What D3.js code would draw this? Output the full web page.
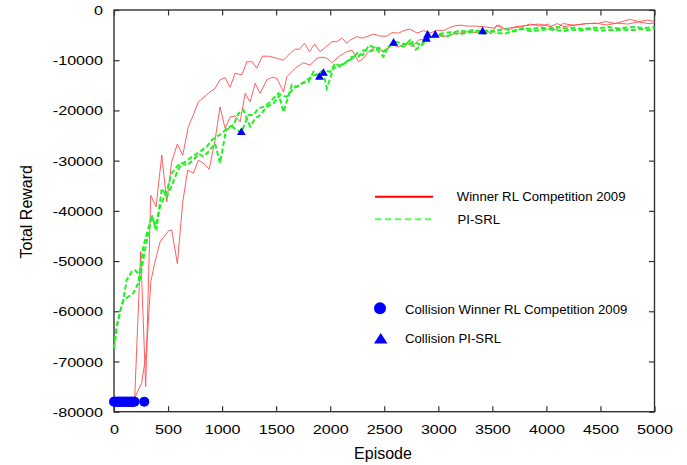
<!DOCTYPE html>
<html><head><meta charset="utf-8">
<script src="https://cdn.jsdelivr.net/npm/d3@7"></script>
<style>
html,body{margin:0;padding:0;background:#fff;}
svg{display:block;font-family:"Liberation Sans",Arial,sans-serif;}
</style></head>
<body><svg id="chart" width="687" height="465"></svg>
<script>
// ---------- data ----------
const xTicks = [0,500,1000,1500,2000,2500,3000,3500,4000,4500,5000];
const yTicks = [0,-10000,-20000,-30000,-40000,-50000,-60000,-70000,-80000];

const winnerAEpisodes = [0,190,247,293,340,389,442,488,534,586,636,688,734,780,873,935,981,1028,1074,1120,1182,1229,1275,1321,1373,1429,1506,1568,1630,1676,1716,1762,1808,1855,1907,1963,2016,2061,2108,2154,2185,2247,2293,2340,2401,2463,2525,2571,2632,2694,2741,2803,2865,2926,2988,3050,3097,3143,3205,3266,3343,3405,3513,3559,3606,3652,3714,3776,3853,3930,3977,4038,4100,4162,4270,4362,4470,4547,4640,4732,4779,4856,4933,5000];
const winnerAReward   = [-78000,-78000,-48100,-75000,-36900,-39200,-28900,-38200,-30200,-26700,-28900,-23200,-20900,-18300,-16600,-15600,-13900,-13500,-15400,-12600,-12900,-10300,-10300,-11600,-9200,-9200,-9600,-10000,-8600,-7800,-7800,-6600,-8300,-6800,-8300,-7300,-6300,-6300,-5600,-6600,-6000,-5300,-5600,-5300,-4800,-5200,-5200,-4500,-4600,-4000,-3800,-4600,-4100,-4600,-4000,-4100,-3600,-3200,-3000,-3200,-3200,-3300,-3600,-3000,-3600,-4000,-3300,-3200,-3000,-2800,-3000,-3300,-2700,-3300,-3000,-2700,-2700,-2300,-2700,-2100,-1900,-2300,-2000,-2300];

const winnerBEpisodes = [0,194,256,302,340,380,426,503,534,586,636,682,734,781,827,880,935,981,1028,1074,1120,1167,1213,1259,1306,1352,1414,1460,1506,1568,1599,1676,1753,1815,1877,1923,1969,2016,2077,2154,2201,2262,2308,2355,2417,2463,2509,2571,2632,2710,2756,2818,2900,2990,3050,3140,3200,3280,3380,3440,3490,3540,3600,3680,3760,3850,3950,4020,4083,4150,4250,4350,4450,4560,4650,4750,4850,4950,5000];
const winnerBReward   = [-78000,-77100,-74300,-67700,-54100,-50100,-46200,-44000,-43800,-50500,-38200,-31900,-32500,-29900,-30500,-31700,-25900,-19300,-23600,-21300,-21100,-22300,-16600,-18300,-14600,-16600,-13900,-13400,-13600,-16300,-13300,-11600,-10500,-11000,-9600,-9400,-9600,-10500,-9300,-8300,-8000,-10300,-9600,-8300,-7400,-8000,-8300,-7000,-7300,-6600,-7300,-6000,-5600,-5000,-5300,-4800,-4600,-4300,-4600,-4000,-4800,-3000,-3800,-3500,-3400,-2800,-3200,-2800,-4000,-2700,-3000,-2800,-2600,-3000,-2600,-2800,-2400,-2700,-2600];

const pisrlAEpisodes = [0,25,56,86,132,179,225,271,303,349,395,442,488,534,580,627,679,735,786,827,889,935,981,1037,1090,1136,1178,1243,1290,1336,1382,1429,1475,1521,1568,1645,1692,1738,1799,1845,1901,1938,1969,2030,2092,2154,2200,2262,2308,2355,2401,2448,2494,2540,2586,2620,2679,2740,2790,2850,2889,2940,2972,3030,3090,3150,3200,3260,3320,3410,3480,3550,3620,3700,3780,3850,3930,4010,4080,4160,4240,4320,4400,4480,4560,4640,4720,4800,4880,4950,5000];
const pisrlAReward   = [-67400,-63100,-60100,-57800,-57100,-56400,-54400,-47200,-44500,-41200,-43500,-35500,-37200,-35000,-32500,-30500,-30900,-29800,-28700,-29200,-27900,-26600,-30500,-23900,-23200,-23900,-24400,-20900,-20900,-19600,-19300,-18600,-17600,-16600,-20300,-14900,-15300,-14600,-14300,-12300,-13400,-12600,-15600,-11600,-11000,-10300,-9300,-9300,-8000,-8300,-8000,-7500,-8300,-7300,-6600,-7000,-7300,-6000,-7900,-7000,-5800,-5600,-5000,-4700,-4500,-4400,-4100,-4300,-4000,-4300,-4000,-4600,-4700,-4100,-3800,-4200,-4100,-3800,-4000,-4200,-3900,-4100,-3800,-4100,-4000,-4000,-3900,-4000,-3800,-4000,-3700];

const pisrlBEpisodes = [0,25,56,86,117,164,194,225,241,287,333,349,380,426,488,534,595,642,704,796,858,905,951,997,1043,1105,1151,1197,1259,1306,1352,1414,1475,1537,1599,1660,1722,1784,1830,1892,1938,2000,2046,2092,2154,2210,2250,2300,2360,2420,2493,2530,2590,2660,2720,2770,2840,2901,2960,3020,3080,3140,3200,3280,3350,3420,3490,3560,3630,3700,3780,3860,3940,4020,4100,4180,4260,4340,4420,4500,4580,4660,4740,4820,4900,5000];
const pisrlBReward   = [-67400,-63100,-60100,-57800,-53800,-52100,-51800,-52500,-53400,-47800,-42800,-40800,-43200,-39200,-36000,-32500,-30900,-30500,-29500,-28200,-27200,-25900,-25200,-24600,-23600,-22900,-20600,-19900,-23200,-21600,-20900,-19300,-18600,-16900,-17300,-15600,-14900,-13900,-13300,-12600,-12000,-12300,-10600,-11300,-10300,-9600,-8600,-9000,-7000,-7600,-9300,-7600,-6300,-6600,-7000,-6300,-7000,-5000,-5300,-5000,-5300,-4600,-4800,-4500,-4200,-4700,-4300,-4000,-3800,-4300,-3600,-3800,-3500,-3700,-3400,-3700,-3500,-3800,-3500,-3600,-3400,-3700,-3500,-3400,-3600,-3400];

const collisionWinnerEpisodes = [0,10,20,30,40,50,60,70,80,90,100,110,120,130,140,150,160,170,180,190,280];
const collisionWinnerReward   = collisionWinnerEpisodes.map(() => -78000);
const collisionPisrlEpisodes = [1178,1901,1938,2586,2889,2901,2972,3410];
const collisionPisrlReward   = [-24400,-13400,-12600,-6600,-5800,-5000,-5000,-4300];

const legendLabels = ["Winner RL Competition 2009","PI-SRL","Collision Winner RL Competition 2009","Collision PI-SRL"];

// ---------- drawing ----------
const svg = d3.select("#chart");
const L = 114, R = 654.5, T = 10, B = 411.7;
const x = d3.scaleLinear().domain([0,5000]).range([L,R]);
const y = d3.scaleLinear().domain([-80000,0]).range([B,T]);
const axisColor = "#333";
const stretch = 1.24;
const fmt = d => String(d);  // plain hyphen-minus, as in the reference

function stretchText(sel, f){
  sel.each(function(){
    const w = this.getComputedTextLength();
    d3.select(this).attr("textLength", w*f).attr("lengthAdjust","spacingAndGlyphs");
  });
}

// axes (inward ticks, mirrored)
const gx = svg.append("g").attr("transform",`translate(0,${B})`)
  .call(d3.axisBottom(x).tickValues(xTicks).tickSize(-5.5).tickPadding(0).tickFormat(fmt));
gx.selectAll("text").attr("y",null).attr("dy",null).attr("transform","translate(0,22.6)");
const gy = svg.append("g").attr("transform",`translate(${L},0)`)
  .call(d3.axisLeft(y).tickValues(yTicks).tickSize(-5.5).tickPadding(11).tickFormat(fmt));
const gxt = svg.append("g").attr("transform",`translate(0,${T})`)
  .call(d3.axisTop(x).tickValues(xTicks).tickSize(-5.5).tickFormat(""));
const gyr = svg.append("g").attr("transform",`translate(${R},0)`)
  .call(d3.axisRight(y).tickValues(yTicks).tickSize(-5.5).tickFormat(""));
[gx,gy,gxt,gyr].forEach(g=>{
  g.select(".domain").remove();
  g.selectAll("line").attr("stroke",axisColor).attr("stroke-width",1.2);
  g.selectAll("text").attr("font-size",13).attr("fill","#000").attr("font-family","Liberation Sans, Arial, sans-serif");
});
gy.selectAll("text").attr("dy","0.35em");
stretchText(gx.selectAll("text"), stretch);
stretchText(gy.selectAll("text"), stretch);

// frame
svg.append("rect").attr("x",L).attr("y",T).attr("width",R-L).attr("height",B-T)
  .attr("fill","none").attr("stroke",axisColor).attr("stroke-width",1.4);

// lines
const plot = svg.append("g");
const line = d3.line().x(d=>x(d[0])).y(d=>y(d[1]));
const zip = (a,b)=>a.map((v,i)=>[v,b[i]]);
[[winnerAEpisodes,winnerAReward],[winnerBEpisodes,winnerBReward]].forEach(([e,r])=>{
  plot.append("path").datum(zip(e,r)).attr("d",line)
    .attr("fill","none").attr("stroke","#ff4d4d").attr("stroke-width",0.9).attr("stroke-linejoin","round");
});
[[pisrlAEpisodes,pisrlAReward],[pisrlBEpisodes,pisrlBReward]].forEach(([e,r])=>{
  plot.append("path").datum(zip(e,r)).attr("d",line)
    .attr("fill","none").attr("stroke","#22f022").attr("stroke-width",2).attr("stroke-dasharray","5,2.5");
});

// collision markers
plot.selectAll("circle.cw").data(zip(collisionWinnerEpisodes,collisionWinnerReward)).join("circle")
  .attr("class","cw").attr("cx",d=>x(d[0])).attr("cy",d=>y(d[1])).attr("r",5).attr("fill","#0000ff");
const tri = d3.symbol().type(d3.symbolTriangle).size(34);
plot.selectAll("path.cp").data(zip(collisionPisrlEpisodes,collisionPisrlReward)).join("path")
  .attr("class","cp").attr("transform",d=>`translate(${x(d[0])},${y(d[1])})`).attr("d",tri).attr("fill","#0000ff");

// axis titles
svg.append("text").attr("x",383).attr("y",459).attr("text-anchor","middle")
  .attr("font-size",16).text("Episode");
svg.append("text").attr("transform","translate(31.5,211.7) rotate(-90)").attr("text-anchor","middle")
  .attr("font-size",16).text("Total Reward");

// legend
const lg = svg.append("g").attr("font-size",13.2);
lg.append("line").attr("x1",375).attr("x2",433).attr("y1",196.7).attr("y2",196.7)
  .attr("stroke","#ff0000").attr("stroke-width",2);
lg.append("line").attr("x1",375).attr("x2",433).attr("y1",219.3).attr("y2",219.3)
  .attr("stroke","#55ff55").attr("stroke-width",2).attr("stroke-dasharray","6,4");
lg.append("circle").attr("cx",380).attr("cy",308.3).attr("r",6).attr("fill","#0000ff");
lg.append("path").attr("d","M374,343.5 L387.5,343.5 L380.7,333 Z").attr("fill","#0000ff");
lg.append("text").attr("x",456.7).attr("y",200.7).text(legendLabels[0]);
lg.append("text").attr("x",457.5).attr("y",224.3).text(legendLabels[1]);
lg.append("text").attr("x",405).attr("y",314).text(legendLabels[2]);
lg.append("text").attr("x",405).attr("y",342.7).text(legendLabels[3]);
</script>
</body></html>
